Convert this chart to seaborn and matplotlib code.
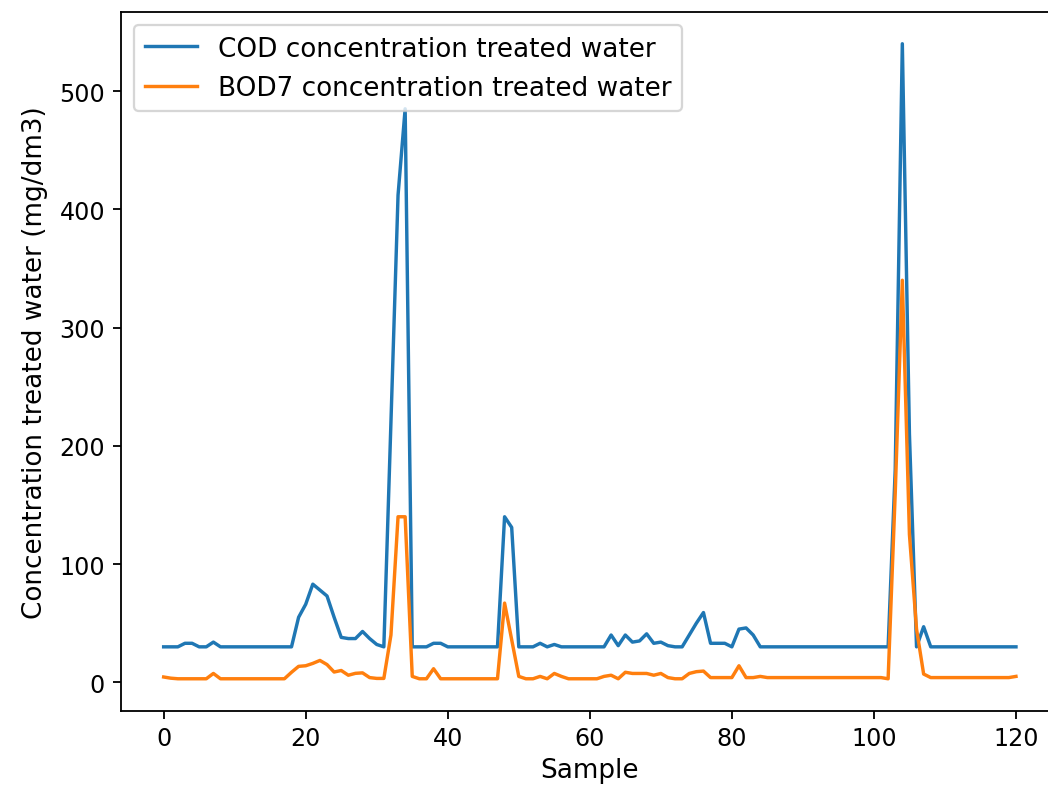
import matplotlib
matplotlib.use('Agg')
import matplotlib.pyplot as plt
import seaborn as sns

samples = list(range(121))

cod = [
    30, 30, 30, 33, 33, 30, 30, 34, 30, 30,        # 0-9
    30, 30, 30, 30, 30, 30, 30, 30, 30, 55,        # 10-19
    66, 83, 78, 73, 55, 38, 37, 37, 43, 37,        # 20-29
    32, 30, 220, 412, 485, 30, 30, 30, 33, 33,     # 30-39
    30, 30, 30, 30, 30, 30, 30, 30, 140, 131,      # 40-49
    30, 30, 30, 33, 30, 32, 30, 30, 30, 30,        # 50-59
    30, 30, 30, 40, 31, 40, 34, 35, 41, 33,        # 60-69
    34, 31, 30, 30, 40, 50, 59, 33, 33, 33,        # 70-79
    30, 45, 46, 40, 30, 30, 30, 30, 30, 30,        # 80-89
    30, 30, 30, 30, 30, 30, 30, 30, 30, 30,        # 90-99
    30, 30, 30, 180, 540, 210, 30, 47, 30, 30,     # 100-109
    30, 30, 30, 30, 30, 30, 30, 30, 30, 30,        # 110-119
    30,                                            # 120
]

bod7 = [
    4.5, 3.5, 3, 3, 3, 3, 3, 7.5, 3, 3,            # 0-9
    3, 3, 3, 3, 3, 3, 3, 3, 8.5, 13.5,             # 10-19
    14, 16, 18.5, 15, 8.7, 10, 6, 7.6, 8, 4,       # 20-29
    3.3, 3.3, 40, 140, 140, 5, 3, 3, 11.5, 3,      # 30-39
    3, 3, 3, 3, 3, 3, 3, 3, 67, 36,                # 40-49
    5, 3, 3, 5, 3, 7.5, 5, 3, 3, 3,                # 50-59
    3, 3, 5, 6, 3, 8.5, 7.5, 7.5, 7.5, 6,          # 60-69
    7.5, 4, 3, 3, 7.5, 9, 9.5, 4, 4, 4,            # 70-79
    4, 14, 4, 4, 5, 4, 4, 4, 4, 4,                 # 80-89
    4, 4, 4, 4, 4, 4, 4, 4, 4, 4,                  # 90-99
    4, 4, 3, 160, 340, 125, 45, 7, 4, 4,           # 100-109
    4, 4, 4, 4, 4, 4, 4, 4, 4, 4,                  # 110-119
    5,                                             # 120
]

label_cod = 'COD concentration treated water'
label_bod = 'BOD7 concentration treated water'

DPI = 164
fig = plt.figure(figsize=(1048 / DPI, 789 / DPI), dpi=DPI)
left, right, bottom, top = 0.1155, 1.0101, 0.0982, 0.9835
ax = fig.add_axes([left, bottom, right - left, top - bottom])

sns.lineplot(x=samples, y=cod, ax=ax, label=label_cod, color='#1f77b4', linewidth=1.5)
sns.lineplot(x=samples, y=bod7, ax=ax, label=label_bod, color='#ff7f0e', linewidth=1.5)

ax.set_xlabel('Sample', fontsize=11.5, labelpad=3)
ax.set_ylabel('Concentration treated water (mg/dm3)', fontsize=11.5, labelpad=5)
ax.tick_params(labelsize=10.5)
ax.legend(loc='upper left', fontsize=11.5)

fig.savefig('out.png', dpi=DPI)
